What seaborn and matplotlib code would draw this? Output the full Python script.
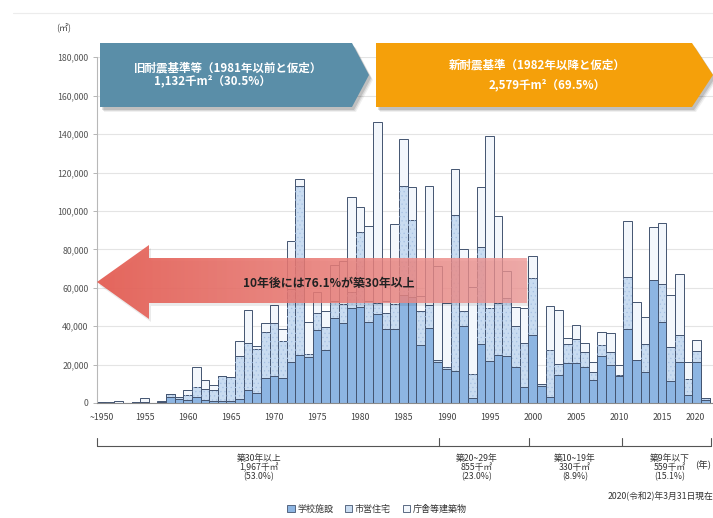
import numpy as np
import pandas as pd
import matplotlib
matplotlib.use("Agg")
import matplotlib.pyplot as plt
from matplotlib.patches import Polygon, Patch
from matplotlib.transforms import ScaledTranslation
import seaborn as sns

# ---- data (floor area in m2 by construction year) ----
years = ["~1950"] + [str(y) for y in range(1951, 2021)]

school = [400, 0, 0, 0, 300, 300, 0, 600, 3000, 2000,
          1800, 3000, 1800, 1000, 1000, 800, 1900, 6800, 5100, 12900,
          14100, 12900, 21600, 25100, 23900, 38200, 27400, 44300, 41400, 49600,
          50100, 42000, 46100, 38600, 38600, 56000, 55000, 30400, 39100, 21100,
          17600, 16900, 40000, 2500, 30700, 22000, 25100, 24600, 19000, 8500,
          35600, 9000, 3300, 14700, 20800, 20800, 18500, 12000, 24600, 19900,
          14300, 38700, 22500, 16100, 63900, 42000, 11200, 21300, 4200, 21600,
          1500]

housing = [0, 0, 0, 0, 0, 0, 0, 0, 1700, 1000,
           2600, 5500, 5500, 5800, 13100, 12600, 22700, 24400, 23000, 23900,
           27300, 19200, 38000, 87800, 1500, 8800, 12200, 9000, 10000, 8000,
           39100, 11000, 6000, 8400, 13000, 56900, 40500, 17400, 12000, 1500,
           1400, 81200, 8000, 12700, 50600, 27600, 27000, 30000, 21000, 22700,
           29500, 900, 24100, 5500, 10000, 12500, 8000, 4400, 5400, 6600,
           500, 26900, 0, 14600, 0, 19800, 18000, 14300, 8200, 5300,
           1000]

other = [0, 300, 1200, 200, 200, 2100, 100, 200, 0, 300,
         2400, 10400, 4700, 2600, 0, 0, 7500, 17100, 1700, 4600,
         9500, 6500, 24900, 3900, 16600, 10800, 8200, 18700, 22600, 49600,
         12700, 39300, 94350, 6000, 41600, 24800, 16900, 8000, 61800, 48800,
         33000, 23550, 32100, 45400, 31100, 89500, 45100, 14200, 10100, 18400,
         11500, 0, 22900, 28000, 3200, 7200, 4700, 4700, 7000, 10000,
         5100, 29000, 30200, 14000, 27900, 31900, 27000, 31400, 9200, 5700,
         0]

xtick_labels = ["~1950", "1955", "1960", "1965", "1970", "1975", "1980", "1985",
                "1990", "1995", "2000", "2005", "2010", "2015", "2020"]
ytick_values = list(range(0, 180001, 20000))
ytick_labels = [f"{v:,}" for v in ytick_values]
series_names = ["学校施設", "市営住宅", "庁舎等建築物"]

banner_old = ["旧耐震基準等（1981年以前と仮定）", "1,132千m²（30.5%）"]
banner_new = ["新耐震基準（1982年以降と仮定）", "2,579千m²（69.5%）"]
arrow_text = "10年後には76.1%が築30年以上"
age_groups = [
    ("築30年以上", "1,967千㎡", "(53.0%)"),
    ("築20~29年", "855千㎡", "(23.0%)"),
    ("築10~19年", "330千㎡", "(8.9%)"),
    ("築9年以下", "559千㎡", "(15.1%)"),
]
as_of = "2020(令和2)年3月31日現在"

df = pd.DataFrame({"year": years, "school": school, "housing": housing, "other": other})
df["lvl1"] = df["school"]
df["lvl2"] = df["school"] + df["housing"]
df["lvl3"] = df["lvl2"] + df["other"]

# ---- style ----
sns.set_theme(style="white")
plt.rcParams["font.family"] = ["Noto Sans CJK JP", "DejaVu Sans"]
hatch_col = "#a6c1e4"
plt.rcParams["hatch.linewidth"] = 0.4

c_school = "#8db5e2"
c_housing = "#c9dcf1"
c_other = "#f3f7fc"
c_edge = "#435470"

W, H = 713, 518
fig = plt.figure(figsize=(W / 100, H / 100), dpi=100)
fig.patch.set_facecolor("white")

ax_left, ax_right, ax_top, ax_bot = 97, 713, 57.3, 403
ax = fig.add_axes([ax_left / W, 1 - ax_bot / H, (ax_right - ax_left) / W, (ax_bot - ax_top) / H])

# stacked bars: draw cumulative totals back to front
common = dict(data=df, x="year", order=years, width=1.0, saturation=1, ax=ax, errorbar=None)
sns.barplot(y="lvl3", color=c_other, edgecolor=c_edge, linewidth=0.7, **common)
sns.barplot(y="lvl2", color=c_housing, edgecolor=c_edge, linewidth=0.7, **common)
# fine dot texture on the housing layer (hatch takes the edge colour)
n_before = len(ax.patches)
sns.barplot(y="lvl2", color=c_housing, edgecolor=hatch_col, linewidth=0,
            hatch="....", **common)
for p in ax.patches[n_before:]:
    p.set_facecolor("none")
sns.barplot(y="lvl1", color=c_school, edgecolor=c_edge, linewidth=0.7, **common)

ax.set_xlim(-0.5, 70.9)
ax.set_ylim(0, 180000)
ax.set_xlabel("")
ax.set_ylabel("")
ax.set_xticks(range(0, 71, 5))
ax.set_xticklabels(xtick_labels, fontsize=6.3, color="#444")
last = ax.get_xticklabels()[-1]
last.set_ha("right")
last.set_transform(last.get_transform() + ScaledTranslation(0.07, 0, fig.dpi_scale_trans))
ax.set_xticks(np.arange(-0.5, 71, 1), minor=True)
ax.tick_params(axis="x", which="major", length=0, pad=7)
ax.tick_params(axis="x", which="minor", length=3, width=0.6, color="#888", direction="out")
ax.set_yticks(ytick_values)
ax.set_yticklabels(ytick_labels, fontsize=6.3, color="#555")
ax.tick_params(axis="y", length=3, width=0.6, color="#aaa", pad=3, left=True)
ax.yaxis.grid(True, color="#e4e4e4", linewidth=0.8)
ax.set_axisbelow(True)
for s in ("top", "right"):
    ax.spines[s].set_visible(False)
ax.spines["left"].set_color("#b8b8b8")
ax.spines["left"].set_linewidth(0.8)
ax.spines["bottom"].set_color("#8a8a8a")
ax.spines["bottom"].set_linewidth(0.8)

# ---- overlay in pixel coordinates for banners, arrow, brackets ----
ov = fig.add_axes([0, 0, 1, 1])
ov.set_facecolor("none")
ov.axis("off")

ov.plot([13, W], [13, 13], color="#ececec", lw=0.8)
ov.text(64, 28, "(㎡)", fontsize=6.5, color="#444", ha="center", va="center")


def banner(pts, color, zorder=6):
    for dx, dy, a in ((4, 5, 0.06), (3, 4, 0.09), (2, 3, 0.12)):
        ov.add_patch(Polygon([(x + dx, y + dy) for x, y in pts], closed=True,
                             facecolor="black", edgecolor="none", alpha=a, zorder=zorder - 1))
    ov.add_patch(Polygon(pts, closed=True, facecolor=color, edgecolor="none", zorder=zorder))


banner([(100, 43), (352, 43), (369, 75), (352, 107), (100, 107)], "#5a8ea8")
banner([(376, 43), (692, 43), (713, 75), (692, 107), (376, 107)], "#f5a00a")
ov.text(228, 68, banner_old[0], fontsize=8.3, color="white", fontweight="bold",
        ha="center", va="center", zorder=8)
ov.text(212, 81, banner_old[1], fontsize=8.3, color="white", fontweight="bold",
        ha="center", va="center", zorder=8)
ov.text(537, 65, banner_new[0], fontsize=8.3, color="white", fontweight="bold",
        ha="center", va="center", zorder=8)
ov.text(547, 85, banner_new[1], fontsize=8.3, color="white", fontweight="bold",
        ha="center", va="center", zorder=8)

# left-pointing arrow with a fading red gradient
arrow_pts = [(97, 282), (149, 245), (149, 258), (527, 258), (527, 303),
             (149, 303), (149, 319)]
ov.add_patch(Polygon([(x + 2, y + 3) for x, y in arrow_pts], closed=True,
                     facecolor="black", edgecolor="none", alpha=0.08, zorder=4))
clip = Polygon(arrow_pts, closed=True, facecolor="none", edgecolor="none", zorder=5)
ov.add_patch(clip)
n = 256
t = np.linspace(0, 1, n)
c0 = np.array([228, 96, 86]) / 255
c1 = np.array([238, 150, 148]) / 255
grad = np.zeros((2, n, 4))
grad[:, :, :3] = c0 + (c1 - c0) * t[:, None]
grad[:, :, 3] = 0.96 - 0.18 * t
im = ov.imshow(grad, extent=[97, 527, 319, 245], aspect="auto", zorder=5,
               interpolation="bilinear")
im.set_clip_path(clip)
ov.text(329, 283, arrow_text, fontsize=8.6, color="#222", fontweight="bold",
        ha="center", va="center", zorder=7)

# construction-age brackets
bounds = [97, 439, 529, 622, 711]
ov.plot([bounds[0], bounds[-1]], [446, 446], color="#555", lw=0.8, zorder=3)
for b in bounds:
    ov.plot([b, b], [438, 446], color="#555", lw=0.8, zorder=3)
centers = [259, 477, 575, 670]
for cx, lines in zip(centers, age_groups):
    for k, line in enumerate(lines):
        ov.text(cx, 458 + 9.5 * k, line, fontsize=6.3, color="#333",
                ha="center", va="center")
ov.text(695, 464, "(年)", fontsize=6.8, color="#333", ha="left", va="center")
ov.text(608, 496, as_of, fontsize=6.3, color="#333", ha="left", va="center")

ov.set_xlim(0, W)
ov.set_ylim(H, 0)

handles = [Patch(facecolor=c_school, edgecolor=c_edge, linewidth=0.6),
           Patch(facecolor=c_housing, edgecolor=c_edge, linewidth=0.6),
           Patch(facecolor=c_other, edgecolor=c_edge, linewidth=0.6)]
fig.legend(handles, series_names, loc="center", bbox_to_anchor=(377 / W, 1 - 509 / H),
           ncol=3, frameon=False, fontsize=6.5, handlelength=0.8, handleheight=0.8,
           handletextpad=0.3, columnspacing=1.3, labelcolor="#333")

fig.savefig("out.png", dpi=100, facecolor="white")
